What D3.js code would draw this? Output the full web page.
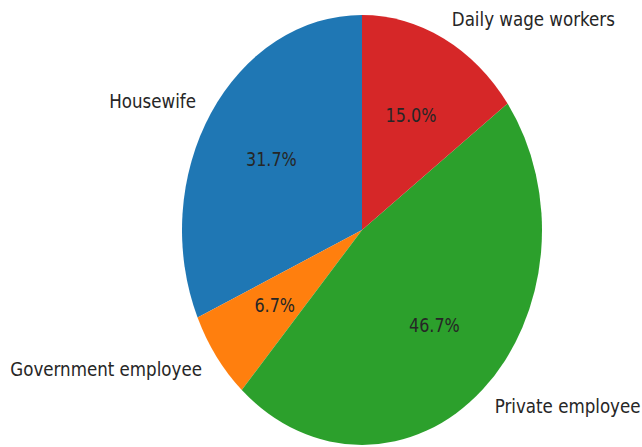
<!DOCTYPE html>
<html>
<head>
<meta charset="utf-8">
<script src="https://cdn.jsdelivr.net/npm/d3@7"></script>
<style>
  body { margin: 0; background: #fff; }
  text { font-family: "DejaVu Sans", sans-serif; }
</style>
</head>
<body>
<script>
// slices in the order matplotlib draws them (counter-clockwise from the top)
const categories = ["Housewife", "Government employee", "Private employee", "Daily wage workers"];
const shares = [31.7, 6.7, 46.7, 15.0];
const colors = ["#1f77b4", "#ff7f0e", "#2ca02c", "#d62728"];

const width = 642, height = 447;
const cx = 362, cy = 230;
const r = 180;
// the picture is stretched vertically, so the pie is an ellipse
const stretchY = 215 / 180;

const svg = d3.select("body").append("svg")
  .attr("width", width)
  .attr("height", height);

const g = svg.append("g")
  .attr("transform", "translate(" + cx + "," + cy + ") scale(1," + stretchY + ")");

const pie = d3.pie()
  .sort(null)
  .value(d => d.value)
  .startAngle(0)
  .endAngle(-2 * Math.PI);

const data = categories.map((c, i) => ({ name: c, value: shares[i], color: colors[i] }));
const arcs = pie(data);

const arc = d3.arc().innerRadius(0).outerRadius(r);

g.selectAll("path.slice")
  .data(arcs)
  .join("path")
  .attr("class", "slice")
  .attr("d", arc)
  .attr("fill", d => d.data.color);

// position helper: d3 angles run clockwise from 12 o'clock
function pos(d, k) {
  const a = (d.startAngle + d.endAngle) / 2;
  return [k * r * Math.sin(a), -k * r * Math.cos(a)];
}

// outer labels at 1.1 r
g.selectAll("text.label")
  .data(arcs)
  .join("text")
  .attr("class", "label")
  .attr("x", d => pos(d, 1.1)[0])
  .attr("y", d => pos(d, 1.1)[1])
  .attr("text-anchor", d => pos(d, 1.1)[0] > 0 ? "start" : "end")
  .attr("dominant-baseline", "central")
  .style("font-size", "16.7px")
  .style("fill", "#262626")
  .text(d => d.data.name);

// percentage labels at 0.6 r
g.selectAll("text.pct")
  .data(arcs)
  .join("text")
  .attr("class", "pct")
  .attr("x", d => pos(d, 0.6)[0])
  .attr("y", d => pos(d, 0.6)[1])
  .attr("text-anchor", "middle")
  .attr("dominant-baseline", "central")
  .style("font-size", "16px")
  .style("fill", "#262626")
  .text(d => d.data.value.toFixed(1) + "%");
</script>
</body>
</html>
